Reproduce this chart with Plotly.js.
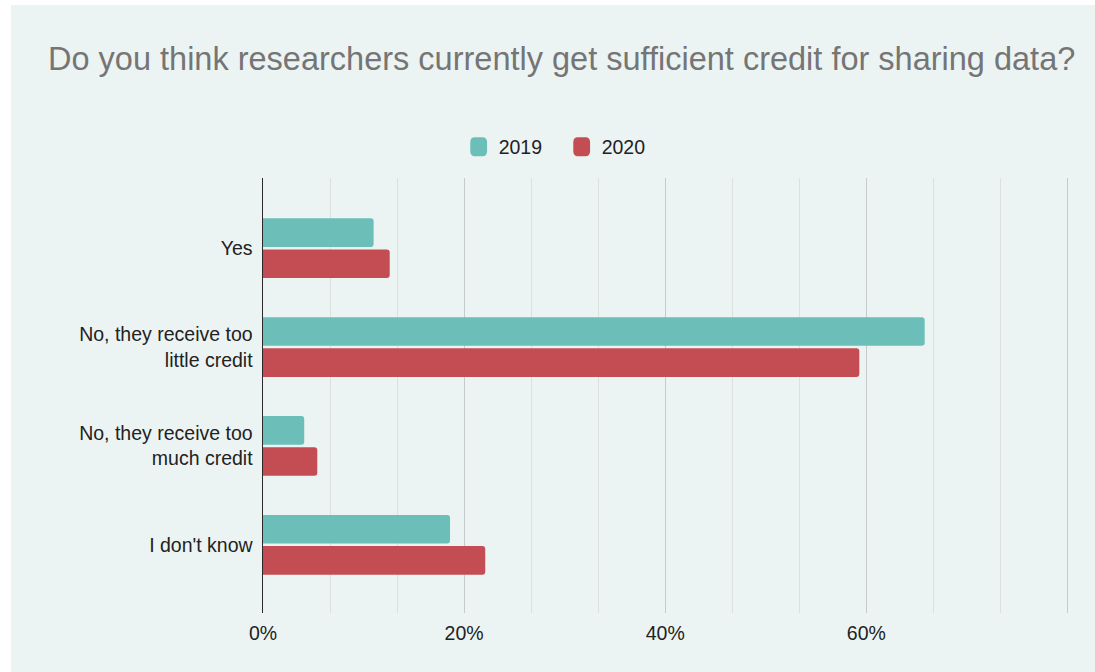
<!DOCTYPE html>
<html>
<head>
<meta charset="utf-8">
<script src="https://cdn.plot.ly/plotly-3.0.1.min.js"></script>
<style>
  html, body { margin: 0; padding: 0; background: #ffffff; width: 1095px; height: 672px; overflow: hidden; }
  #chart { position: absolute; left: 11px; top: 5px; width: 1084px; height: 667px; }
</style>
</head>
<body>
<div id="chart"></div>
<script>
const categories = ["Yes", "No, they receive too<br>little credit", "No, they receive too<br>much credit", "I don't know"];
const values2019 = [11.0, 65.8, 4.1, 18.6];
const values2020 = [12.6, 59.3, 5.4, 22.1];
const seriesNames = ["2019", "2020"];
const tickValues = [0, 20, 40, 60, 80];
const tickLabels = ["0%", "20%", "40%", "60%", ""];

const FONT = '"Liberation Sans", Arial, Helvetica, sans-serif';

const traces = [
  {
    type: 'bar', orientation: 'h', name: seriesNames[0],
    y: categories, x: values2019,
    marker: { color: '#6bbfb8', cornerradius: 3 },
    hoverinfo: 'x+name'
  },
  {
    type: 'bar', orientation: 'h', name: seriesNames[1],
    y: categories, x: values2020,
    marker: { color: '#c44d53', cornerradius: 3 },
    hoverinfo: 'x+name'
  }
];

const layout = {
  width: 1084, height: 667,
  paper_bgcolor: '#ecf4f3', plot_bgcolor: '#ecf4f3',
  margin: { l: 252, r: 26, t: 173, b: 59 },
  font: { family: FONT, color: '#222222', size: 19.5 },
  title: {
    text: 'Do you think researchers currently get sufficient credit for sharing data?',
    font: { family: FONT, size: 32.5, color: '#757575' },
    x: 0.508, xref: 'container', xanchor: 'center',
    y: 0.92, yref: 'container', yanchor: 'middle'
  },
  barmode: 'group', bargap: 0.37, bargroupgap: 0.08,
  showlegend: true,
  legend: {
    orientation: 'h', xref: 'container', yref: 'container',
    x: 0.508, xanchor: 'center', y: 0.787, yanchor: 'middle',
    font: { family: FONT, size: 19.5, color: '#222222' },
    bgcolor: 'rgba(0,0,0,0)', traceorder: 'normal',
    entrywidth: 58, entrywidthmode: 'pixels'
  },
  xaxis: {
    range: [0, 80.15], autorange: false,
    tickmode: 'array', tickvals: tickValues, ticktext: tickLabels,
    showgrid: true, gridcolor: '#c6caca', gridwidth: 1,
    minor: { dtick: 20 / 3, tick0: 0, showgrid: true, gridcolor: '#dce1e0', gridwidth: 1, ticks: '' },
    zeroline: false, showline: false, ticks: '',
    ticklabelstandoff: 6,
    tickfont: { family: FONT, size: 19.5, color: '#222222' },
    fixedrange: true
  },
  yaxis: {
    type: 'category', categoryorder: 'array', categoryarray: categories,
    range: [3.69, -0.71], autorange: false,
    showgrid: false, zeroline: false,
    showline: true, linecolor: '#2a2a2a', linewidth: 1.5,
    ticks: '', ticklabelstandoff: 5,
    tickfont: { family: FONT, size: 19.5, color: '#222222' },
    fixedrange: true
  }
};

Plotly.newPlot('chart', traces, layout, { displayModeBar: false, staticPlot: true }).then(function () {
  document.querySelectorAll('#chart .legend .legendpoints path').forEach(function (p) {
    const t = p.getAttribute('transform') || '';
    p.setAttribute('transform', t + ' scale(1.4,1.6)');
  });
});
</script>
</body>
</html>
